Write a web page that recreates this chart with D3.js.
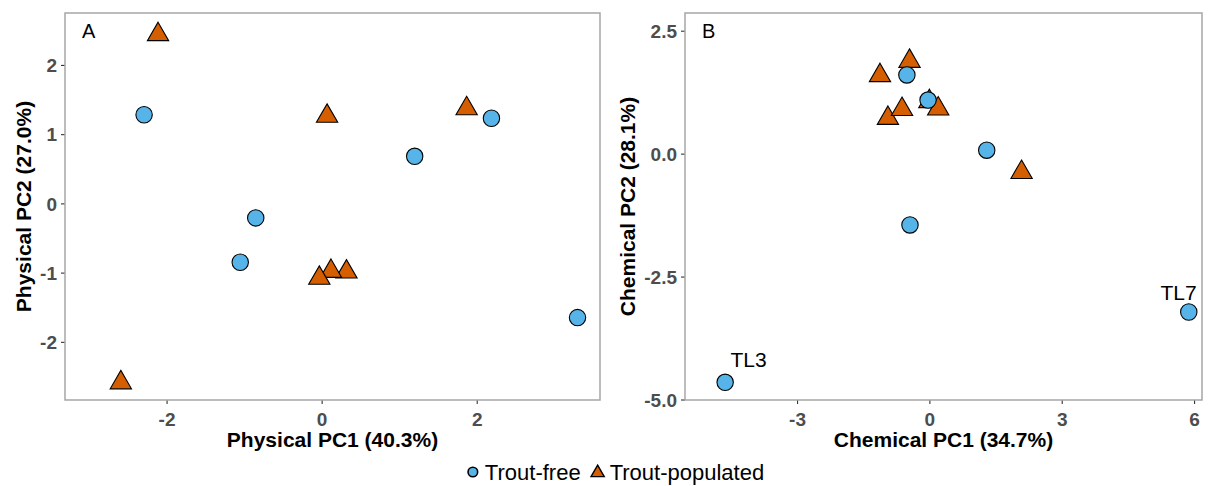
<!DOCTYPE html>
<html>
<head>
<meta charset="utf-8">
<script src="https://cdn.jsdelivr.net/npm/d3@7"></script>
<style>
  html, body { margin: 0; padding: 0; background: #fff; }
  svg { display: block; font-family: "Liberation Sans", Arial, sans-serif; }
</style>
</head>
<body>
<svg id="chart" width="1216" height="486"></svg>
<script>
// Panel A: physical PCA scores
const physFreeX = [-2.29, -0.85, -1.05, 1.20, 2.19, 3.30];
const physFreeY = [1.28, -0.21, -0.85, 0.68, 1.23, -1.65];
const physPopX  = [-2.11, 0.07, 1.87, -2.59, 0.32, 0.12, -0.03];
const physPopY  = [2.44, 1.26, 1.37, -2.59, -0.99, -0.98, -1.08];

// Panel B: chemical PCA scores
const chemFreeX = [-0.51, -0.03, 1.30, -0.44, -4.63, 5.88];
const chemFreeY = [1.60, 1.09, 0.07, -1.45, -4.65, -3.22];
const chemPopX  = [-1.12, -0.45, -0.94, -0.62, 0.00, 0.20, 2.09];
const chemPopY  = [1.59, 1.88, 0.72, 0.90, 1.06, 0.91, -0.38];

// Site labels for the two outlying lakes (text centre, data units)
const siteLabels = ["TL3", "TL7"];
const siteLabelX = [-4.10, 5.65];
const siteLabelY = [-4.34, -2.98];

// Tick labels
const physXTicks = [-2, 0, 2];
const physYTicks = [-2, -1, 0, 1, 2];
const chemXTicks = [-3, 0, 3, 6];
const chemYTicks = [-5.0, -2.5, 0.0, 2.5];

const groups = ["Trout-free", "Trout-populated"];
const fills = {"Trout-free": "#56B4E9", "Trout-populated": "#D55E00"};

const svg = d3.select("#chart");

// equilateral triangle centred on its centroid, r = circumradius
function triPath(r) {
  const h = r * Math.sqrt(3) / 2;
  return `M0,${-r}L${h},${r / 2}L${-h},${r / 2}Z`;
}

// plain hyphen for negative tick values
const hy = f => v => f(v).replace("\u2212", "-");

function panel(opts) {
  const { left, right, top, bottom, xDom, yDom, xTicks, yTicks, fmtX, fmtY,
          xTitle, yTitle, yTitleX, tag, free, pop, labels } = opts;
  const x = d3.scaleLinear().domain(xDom).range([left, right]);
  const y = d3.scaleLinear().domain(yDom).range([bottom, top]);
  const g = svg.append("g");

  // axes
  const ax = g.append("g").attr("transform", `translate(0,${bottom})`)
    .call(d3.axisBottom(x).tickValues(xTicks).tickFormat(hy(fmtX)).tickSizeOuter(0).tickSize(4).tickPadding(4));
  const ay = g.append("g").attr("transform", `translate(${left},0)`)
    .call(d3.axisLeft(y).tickValues(yTicks).tickFormat(hy(fmtY)).tickSizeOuter(0).tickSize(4).tickPadding(4));
  [ax, ay].forEach(a => {
    a.select(".domain").remove();
    a.selectAll(".tick line").attr("stroke", "#333").attr("stroke-width", 1.1);
    a.selectAll(".tick text").attr("fill", "#4d4d4d").attr("font-size", 19)
      .attr("font-weight", "bold").attr("font-family", "Liberation Sans, Arial, sans-serif");
  });
  ax.selectAll(".tick text").attr("dy", "0.95em");
  ay.selectAll(".tick text").attr("dy", "0.36em");

  // panel border
  g.append("rect").attr("x", left).attr("y", top)
    .attr("width", right - left).attr("height", bottom - top)
    .attr("fill", "none").attr("stroke", "#a6a6a6").attr("stroke-width", 1.5);

  // panel tag
  g.append("text").attr("x", left + 17).attr("y", top + 25)
    .attr("font-size", 20).attr("fill", "#000").text(tag);

  // axis titles
  g.append("text").attr("x", (left + right) / 2).attr("y", 447)
    .attr("text-anchor", "middle").attr("font-size", 21).attr("font-weight", "bold")
    .text(xTitle);
  g.append("text")
    .attr("transform", `translate(${yTitleX},${(top + bottom) / 2}) rotate(-90)`)
    .attr("text-anchor", "middle").attr("font-size", 21).attr("font-weight", "bold")
    .text(yTitle);

  // points: trout-populated triangles underneath, trout-free circles on top
  const popData = pop.x.map((v, i) => ({ x: v, y: pop.y[i] }));
  g.append("g").selectAll("path").data(popData).join("path")
    .attr("d", triPath(12.3))
    .attr("transform", d => `translate(${x(d.x)},${y(d.y)})`)
    .attr("fill", fills["Trout-populated"]).attr("stroke", "#000").attr("stroke-width", 1.1);

  const freeData = free.x.map((v, i) => ({ x: v, y: free.y[i] }));
  g.append("g").selectAll("circle").data(freeData).join("circle")
    .attr("cx", d => x(d.x)).attr("cy", d => y(d.y)).attr("r", 8.2)
    .attr("fill", fills["Trout-free"]).attr("stroke", "#000").attr("stroke-width", 1.1);

  if (labels) {
    const labData = labels.text.map((t, i) => ({ t, x: labels.x[i], y: labels.y[i] }));
    g.append("g").selectAll("text").data(labData).join("text")
      .attr("x", d => x(d.x)).attr("y", d => y(d.y))
      .attr("text-anchor", "middle")
      .attr("font-size", 21).attr("fill", "#000").text(d => d.t);
  }
}

panel({
  left: 65, right: 600, top: 13, bottom: 400,
  xDom: [-3.31, 3.59], yDom: [-2.84, 2.75],
  xTicks: physXTicks, yTicks: physYTicks,
  fmtX: d3.format("d"), fmtY: d3.format("d"),
  xTitle: "Physical PC1 (40.3%)", yTitle: "Physical PC2 (27.0%)", yTitleX: 31,
  tag: "A",
  free: { x: physFreeX, y: physFreeY },
  pop: { x: physPopX, y: physPopY }
});

panel({
  left: 685, right: 1202, top: 13, bottom: 400,
  xDom: [-5.54, 6.18], yDom: [-5.01, 2.86],
  xTicks: chemXTicks, yTicks: chemYTicks,
  fmtX: d3.format("d"), fmtY: d3.format(".1f"),
  xTitle: "Chemical PC1 (34.7%)", yTitle: "Chemical PC2 (28.1%)", yTitleX: 635,
  tag: "B",
  free: { x: chemFreeX, y: chemFreeY },
  pop: { x: chemPopX, y: chemPopY },
  labels: { text: siteLabels, x: siteLabelX, y: siteLabelY }
});

// legend below both panels
const legY = 472;
const keyText = 12;   // key centre to text start
const itemGap = 17;   // end of one label to next key centre
const leg = svg.append("g");
const items = leg.selectAll("g").data(groups).join("g");
items.append("text").attr("x", keyText).attr("font-size", 22).attr("fill", "#000")
  .attr("dy", "0.36em").text(d => d);
items.each(function (d) {
  const it = d3.select(this);
  if (d === "Trout-free") {
    it.append("circle").attr("cx", 0).attr("cy", 0).attr("r", 4.8)
      .attr("fill", fills[d]).attr("stroke", "#000").attr("stroke-width", 1.6);
  } else {
    it.append("path").attr("d", triPath(7.6)).attr("transform", "translate(0,0.8)")
      .attr("fill", fills[d]).attr("stroke", "#000").attr("stroke-width", 1.4);
  }
});
const widths = items.nodes().map(n => keyText + d3.select(n).select("text").node().getComputedTextLength());
const total = d3.sum(widths) + itemGap * (widths.length - 1) + 5;
let cx = 616 - total / 2 + 5;
items.each(function (d, i) {
  d3.select(this).attr("transform", `translate(${cx},${legY})`);
  cx += widths[i] + itemGap;
});
</script>
</body>
</html>
